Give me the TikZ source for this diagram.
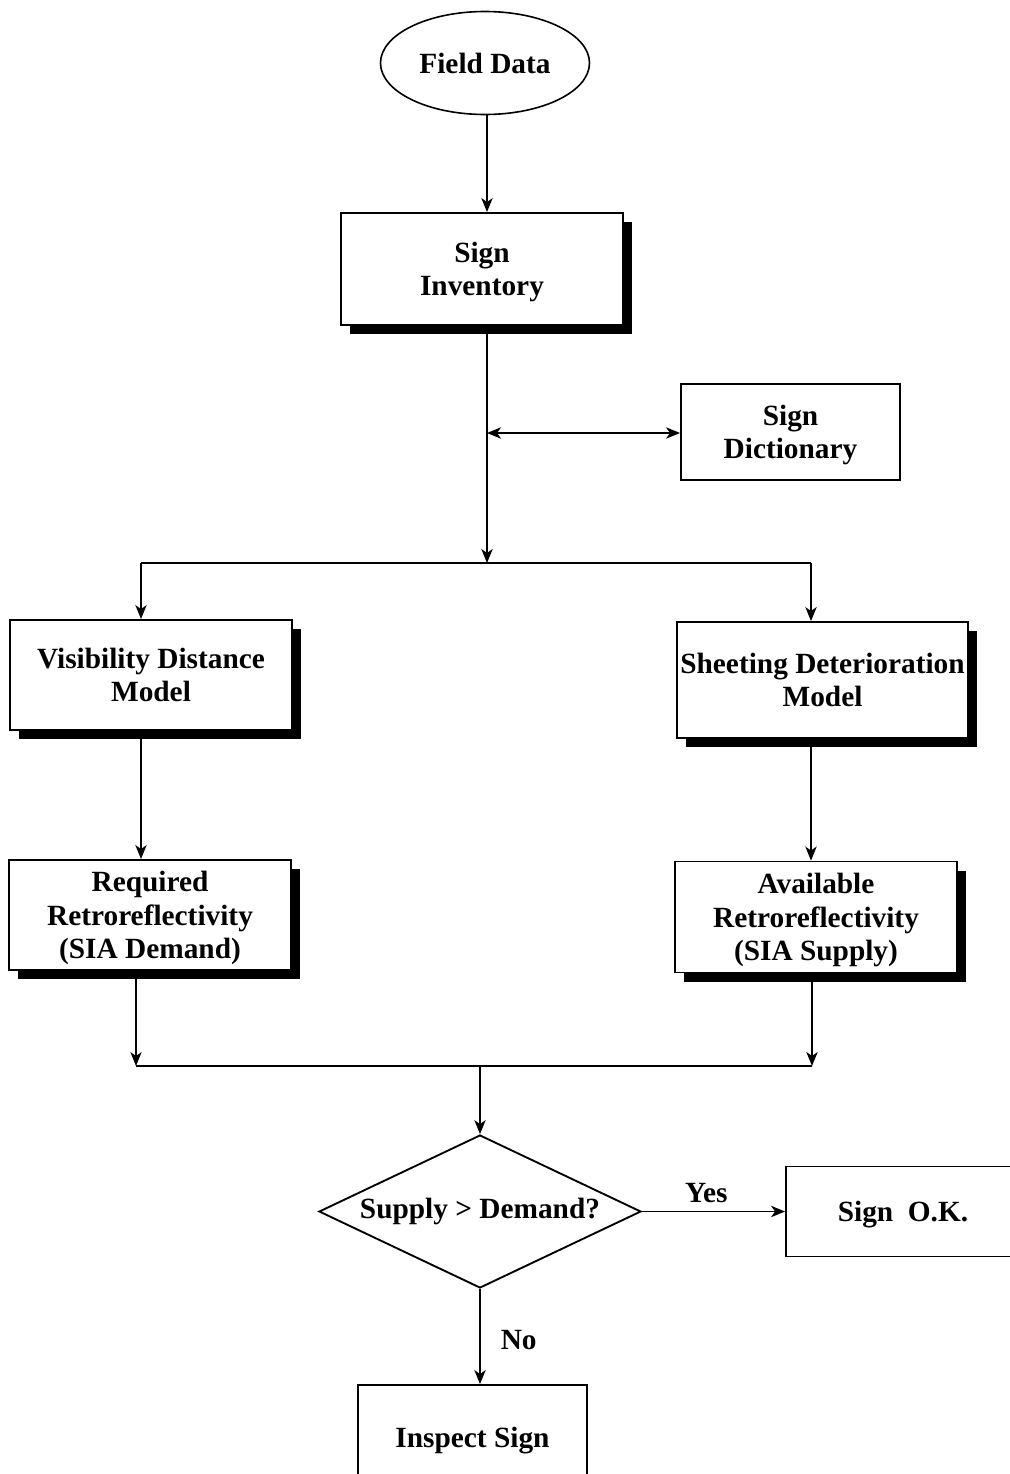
\documentclass[tikz,border=0pt]{standalone}
\usepackage{fontspec}
\setmainfont{Liberation Serif}
\usetikzlibrary{shapes.geometric,shadows,arrows.meta}
\begin{document}
\begin{tikzpicture}[x=0.75pt,y=-0.75pt,
  every node/.style={font=\fontsize{22}{25}\selectfont\bfseries, align=center},
  box/.style={draw, line width=1.4pt, fill=white, rectangle, inner sep=1pt, text depth=0pt},
  shbox/.style={box, drop shadow={shadow xshift=7pt, shadow yshift=-7pt, opacity=1, fill=black}},
  conn/.style={line width=1.2pt},
  tip/.style={Stealth[length=10.5pt,width=8.5pt,inset=3pt]},
  arr/.style={conn, -{Stealth[length=10.5pt,width=8.5pt,inset=3pt]}},
  darr/.style={conn, {Stealth[length=10.5pt,width=8.5pt,inset=3pt]}-{Stealth[length=10.5pt,width=8.5pt,inset=3pt]}},
  lbl/.style={inner sep=2pt}
]
\path[use as bounding box, clip] (0,0) rectangle (1010,1474);
\fill[white] (0,0) rectangle (1010,1474);

\node[draw, line width=1.2pt, ellipse, fill=white, minimum width=156.75pt, minimum height=77.25pt, inner sep=0pt] (fd) at (485,63) {Field Data};
\node[shbox, minimum width=211.5pt, minimum height=84pt] (inv) at (482,269) {Sign\\Inventory};
\node[box, minimum width=164.25pt, minimum height=72pt] (dict) at (790.5,432) {Sign\\Dictionary};
\node[shbox, minimum width=211.5pt, minimum height=82.5pt] (vis) at (151,675) {Visibility Distance\\Model};
\node[shbox, minimum width=218.25pt, minimum height=87pt] (sheet) at (822.5,680) {Sheeting Deterioration\\Model};
\node[shbox, minimum width=211.5pt, minimum height=82.5pt] (req) at (150,915) {Required\\Retroreflectivity\\(SIA Demand)};
\node[shbox, minimum width=211.5pt, minimum height=83.25pt] (avail) at (816,917) {Available\\Retroreflectivity\\(SIA Supply)};
\node[draw, line width=1.4pt, diamond, fill=white, aspect=2.1, inner sep=0pt, minimum width=241.5pt, minimum height=114.75pt] (dia) at (480,1211.5) {Supply > Demand?};
\node[box, minimum width=175.5pt, minimum height=67.5pt] (ok) at (903,1211.5) {Sign~~O.K.};
\node[box, minimum width=171.75pt, minimum height=78.75pt] (insp) at (472.5,1437.5) {Inspect Sign};

\coordinate (t1) at (487,563);
\coordinate (t2) at (487,433);
\coordinate (bl) at (141,563);
\coordinate (br) at (811,563);
\coordinate (ml) at (136,1066);
\coordinate (mr) at (812,1066);
\coordinate (mc) at (480,1066);

\draw[arr] (fd.south -| t1) -- (inv.north -| t1);
\draw[arr] (inv.south -| t1) -- (t1);
\draw[darr] (t2) -- (dict.west |- t2);
\draw[conn] (bl) -- (br);
\draw[arr] (bl) -- (bl |- vis.north);
\draw[arr] (br) -- (br |- sheet.north);
\draw[arr] (vis.south -| bl) -- (req.north -| bl);
\draw[arr] (sheet.south -| br) -- (avail.north -| br);
\draw[arr] (req.south -| ml) -- (ml);
\draw[arr] (avail.south -| mr) -- (mr);
\draw[conn] (ml) -- (mr);
\draw[arr] (mc) -- (dia.north);
\draw[arr] (dia.east) -- (ok.west) node[lbl, pos=0.45, above=4pt] {Yes};
\draw[arr] (dia.south) -- (insp.north -| dia.south) node[lbl, pos=0.54, right=13pt] {No};
\end{tikzpicture}
\end{document}
